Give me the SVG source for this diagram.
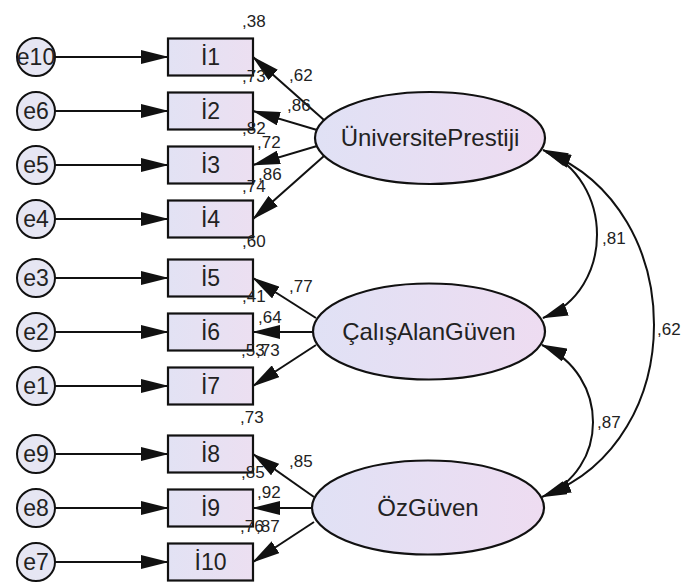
<svg xmlns="http://www.w3.org/2000/svg" width="684" height="583" viewBox="0 0 684 583">
<style>
.err{fill:#e6e6f3;stroke:#111;stroke-width:2}
.obs{fill:url(#gr);stroke:#111;stroke-width:2.2}
.lat{fill:url(#ge);stroke:#111;stroke-width:2.2}
.ln{fill:none;stroke:#111;stroke-width:2}
.t{font-family:"Liberation Sans",Arial,sans-serif;fill:#222}
.lbl{font-size:23px;text-anchor:middle}
.lat-t{font-size:24px;text-anchor:middle}
.num{font-size:17px}
</style>
<defs>
<linearGradient id="gr" x1="0" x2="1" y1="0" y2="0"><stop offset="0" stop-color="#e2e2f4"/><stop offset="1" stop-color="#ecdff1"/></linearGradient>
<linearGradient id="ge" x1="0" x2="1" y1="0" y2="0"><stop offset="0" stop-color="#e0e1f5"/><stop offset="1" stop-color="#eedcf1"/></linearGradient>
<marker id="ah" markerUnits="userSpaceOnUse" markerWidth="28" markerHeight="14" refX="27" refY="7" orient="auto"><path d="M0,0 L28,7 L0,14 z" fill="#111"/></marker>
<marker id="ah2" markerUnits="userSpaceOnUse" markerWidth="26" markerHeight="14" refX="25" refY="7" orient="auto-start-reverse"><path d="M0,0 L26,7 L0,14 z" fill="#111"/></marker>
</defs>
<rect width="684" height="583" fill="#fff"/>
<g id="connectors">
<path class="ln" marker-end="url(#ah)" d="M55,57 L168,57"/>
<path class="ln" marker-end="url(#ah)" d="M55,111 L168,111"/>
<path class="ln" marker-end="url(#ah)" d="M55,165 L168,165"/>
<path class="ln" marker-end="url(#ah)" d="M55,219 L168,219"/>
<path class="ln" marker-end="url(#ah)" d="M55,278 L168,278"/>
<path class="ln" marker-end="url(#ah)" d="M55,332 L168,332"/>
<path class="ln" marker-end="url(#ah)" d="M55,386 L168,386"/>
<path class="ln" marker-end="url(#ah)" d="M55,454 L168,454"/>
<path class="ln" marker-end="url(#ah)" d="M55,508 L168,508"/>
<path class="ln" marker-end="url(#ah)" d="M55,562 L168,562"/>
<path class="ln" marker-end="url(#ah)" d="M324,120 L253,57"/>
<path class="ln" marker-end="url(#ah)" d="M317,130 L253,111"/>
<path class="ln" marker-end="url(#ah)" d="M317,146 L253,165"/>
<path class="ln" marker-end="url(#ah)" d="M324,156 L253,219"/>
<path class="ln" marker-end="url(#ah)" d="M316,318 L253,278"/>
<path class="ln" marker-end="url(#ah)" d="M313,332 L253,332"/>
<path class="ln" marker-end="url(#ah)" d="M316,345 L253,386"/>
<path class="ln" marker-end="url(#ah)" d="M314,497 L253,454"/>
<path class="ln" marker-end="url(#ah)" d="M312,508 L253,508"/>
<path class="ln" marker-end="url(#ah)" d="M314,522 L253,562"/>
<path class="ln" marker-start="url(#ah2)" marker-end="url(#ah2)" d="M543,150 C615,180 615,290 543,318"/>
<path class="ln" marker-start="url(#ah2)" marker-end="url(#ah2)" d="M542,345 C610,375 610,470 542,497"/>
<path class="ln" marker-start="url(#ah2)" marker-end="url(#ah2)" d="M546,152 C690,210 690,440 546,495"/>
</g>
<g id="e10"><circle class="err" cx="36" cy="57" r="19"/><text class="t lbl" x="36" y="65">e10</text></g>
<g id="e6"><circle class="err" cx="36" cy="111" r="19"/><text class="t lbl" x="36" y="119">e6</text></g>
<g id="e5"><circle class="err" cx="36" cy="165" r="19"/><text class="t lbl" x="36" y="173">e5</text></g>
<g id="e4"><circle class="err" cx="36" cy="219" r="19"/><text class="t lbl" x="36" y="227">e4</text></g>
<g id="e3"><circle class="err" cx="36" cy="278" r="19"/><text class="t lbl" x="36" y="286">e3</text></g>
<g id="e2"><circle class="err" cx="36" cy="332" r="19"/><text class="t lbl" x="36" y="340">e2</text></g>
<g id="e1"><circle class="err" cx="36" cy="386" r="19"/><text class="t lbl" x="36" y="394">e1</text></g>
<g id="e9"><circle class="err" cx="36" cy="454" r="19"/><text class="t lbl" x="36" y="462">e9</text></g>
<g id="e8"><circle class="err" cx="36" cy="508" r="19"/><text class="t lbl" x="36" y="516">e8</text></g>
<g id="e7"><circle class="err" cx="36" cy="562" r="19"/><text class="t lbl" x="36" y="570">e7</text></g>
<g id="I1"><rect class="obs" x="168" y="38.5" width="85" height="37"/><text class="t lbl" x="210.5" y="65">İ1</text></g>
<g id="I2"><rect class="obs" x="168" y="92.5" width="85" height="37"/><text class="t lbl" x="210.5" y="119">İ2</text></g>
<g id="I3"><rect class="obs" x="168" y="146.5" width="85" height="37"/><text class="t lbl" x="210.5" y="173">İ3</text></g>
<g id="I4"><rect class="obs" x="168" y="200.5" width="85" height="37"/><text class="t lbl" x="210.5" y="227">İ4</text></g>
<g id="I5"><rect class="obs" x="168" y="259.5" width="85" height="37"/><text class="t lbl" x="210.5" y="286">İ5</text></g>
<g id="I6"><rect class="obs" x="168" y="313.5" width="85" height="37"/><text class="t lbl" x="210.5" y="340">İ6</text></g>
<g id="I7"><rect class="obs" x="168" y="367.5" width="85" height="37"/><text class="t lbl" x="210.5" y="394">İ7</text></g>
<g id="I8"><rect class="obs" x="168" y="435.5" width="85" height="37"/><text class="t lbl" x="210.5" y="462">İ8</text></g>
<g id="I9"><rect class="obs" x="168" y="489.5" width="85" height="37"/><text class="t lbl" x="210.5" y="516">İ9</text></g>
<g id="I10"><rect class="obs" x="168" y="543.5" width="85" height="37"/><text class="t lbl" x="210.5" y="570">İ10</text></g>
<g id="UniversitePrestiji"><ellipse class="lat" cx="430" cy="138" rx="115" ry="46"/><text class="t lat-t" x="430" y="146">ÜniversitePrestiji</text></g>
<g id="CalisAlanGuven"><ellipse class="lat" cx="429" cy="331.5" rx="116" ry="48"/><text class="t lat-t" x="429" y="340">ÇalışAlanGüven</text></g>
<g id="OzGuven"><ellipse class="lat" cx="428" cy="507.5" rx="116" ry="47"/><text class="t lat-t" x="428" y="516">ÖzGüven</text></g>
<g id="labels" class="t num">
<text x="242" y="27">,38</text>
<text x="242" y="82">,73</text>
<text x="289" y="81">,62</text>
<text x="287" y="111">,86</text>
<text x="242" y="134">,82</text>
<text x="257" y="148">,72</text>
<text x="258" y="180">,86</text>
<text x="242" y="192">,74</text>
<text x="242" y="247">,60</text>
<text x="289" y="292">,77</text>
<text x="242" y="302">,41</text>
<text x="258" y="323">,64</text>
<text x="241" y="356">,53</text>
<text x="256" y="356">,73</text>
<text x="240" y="423">,73</text>
<text x="289" y="467">,85</text>
<text x="241" y="478">,85</text>
<text x="257" y="498">,92</text>
<text x="240" y="532">,76</text>
<text x="256" y="532">,87</text>
<text x="602" y="244">,81</text>
<text x="597" y="428">,87</text>
<text x="657" y="335">,62</text>
</g>
</svg>
